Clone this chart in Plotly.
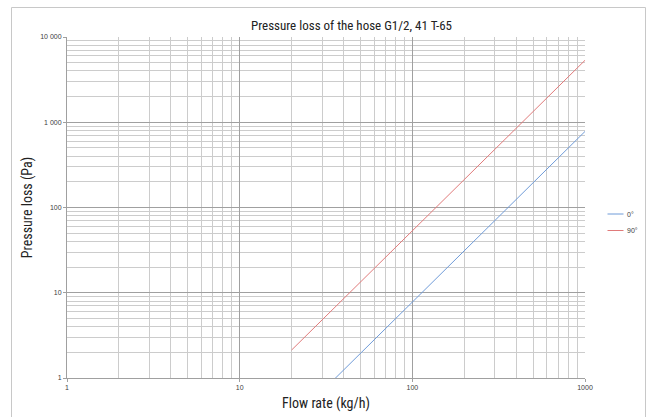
import plotly.graph_objects as go

flow = [20, 30, 40, 50, 60, 70, 80, 90, 100, 200, 300, 400, 500, 600, 700, 800, 900, 1000]
loss_0 = [0.31, 0.70, 1.25, 1.95, 2.81, 3.82, 4.99, 6.32, 7.8, 31.2, 70.2, 125, 195, 281, 382, 499, 632, 780]
loss_90 = [2.13, 4.8, 8.5, 13.3, 19.2, 26.1, 34.1, 43.2, 53.3, 213, 480, 853, 1333, 1919, 2612, 3411, 4317, 5330]
series_names = ["0°", "90°"]
series_colors = ["#6f9bd8", "#e07a7a"]

x_ticks = [1, 10, 100, 1000]
x_labels = ["1", "10", "100", "1000"]
y_ticks = [1, 10, 100, 1000, 10000]
y_labels = ["1", "10", "100", "1 000", "10 000"]

minor_x = [m * 10 ** d for d in range(0, 3) for m in range(2, 10)]
minor_y = [m * 10 ** d for d in range(0, 4) for m in range(2, 10)]

NARROW = "Liberation Sans Narrow, Roboto Condensed, Arial Narrow, sans-serif"

fig = go.Figure()
for name, ys, col in zip(series_names, [loss_0, loss_90], series_colors):
    fig.add_trace(go.Scatter(x=flow, y=ys, mode="lines", name=name,
                             line=dict(color=col, width=1), showlegend=False))

axis_common = dict(
    type="log", showgrid=True, gridcolor="#a0a0a0", gridwidth=1,
    zeroline=False, showline=True, linecolor="#a0a0a0", linewidth=1,
    ticks="outside", ticklen=3, tickcolor="#a0a0a0",
    tickfont=dict(family="Arial, sans-serif", size=7, color="#404040"),
    tickmode="array", automargin=False,
)

fig.update_xaxes(**axis_common, range=[0, 3], tickvals=x_ticks, ticktext=x_labels,
                 minor=dict(tickmode="array", tickvals=minor_x, showgrid=True,
                            gridcolor="#cccccc", gridwidth=1, ticks=""),
                 title=dict(text="Flow rate (kg/h)", font=dict(family=NARROW, size=14, color="#222222"), standoff=7))
fig.update_yaxes(**axis_common, range=[0, 4], tickvals=y_ticks, ticktext=y_labels,
                 minor=dict(tickmode="array", tickvals=minor_y, showgrid=True,
                            gridcolor="#cccccc", gridwidth=1, ticks=""),
                 title=dict(text="Pressure loss (Pa)", font=dict(family=NARROW, size=14, color="#222222"), standoff=4))

W, H = 654, 417
ml, mr, mt, mb = 67, 69, 37, 39
pw, ph = W - ml - mr, H - mt - mb

def px_to_paper_x(px):
    return (px - ml) / pw

def px_to_paper_y(py):
    return (H - mb - py) / ph

# outer chart frame (left, top, right edges)
frame = [(11.5, 7.5, 11.5, 417), (11.5, 7.5, 645.5, 7.5), (645.5, 7.5, 645.5, 417)]
for fx0, fy0, fx1, fy1 in frame:
    fig.add_shape(type="line", xref="paper", yref="paper",
                  x0=px_to_paper_x(fx0), x1=px_to_paper_x(fx1),
                  y0=px_to_paper_y(fy0), y1=px_to_paper_y(fy1),
                  line=dict(color="#c8c8c8", width=1), layer="above")

# manual legend
legend_y = [214, 230.5]
for name, col, ly in zip(series_names, series_colors, legend_y):
    fig.add_shape(type="line", xref="paper", yref="paper",
                  x0=px_to_paper_x(607.5), x1=px_to_paper_x(623.5),
                  y0=px_to_paper_y(ly), y1=px_to_paper_y(ly),
                  line=dict(color=col, width=1))
    fig.add_annotation(xref="paper", yref="paper", x=px_to_paper_x(625), y=px_to_paper_y(ly),
                       text=name, showarrow=False, xanchor="left", yanchor="middle",
                       font=dict(family="Arial, sans-serif", size=7, color="#404040"))

fig.update_layout(
    width=W, height=H,
    margin=dict(l=ml, r=mr, t=mt, b=mb, autoexpand=False),
    paper_bgcolor="white", plot_bgcolor="white",
    title=dict(text="Pressure loss of the hose G1/2, 41 T-65",
               font=dict(family=NARROW, size=13, color="#222222"),
               x=351.5 / W, xanchor="center", y=1 - 25 / H, yanchor="middle"),
    showlegend=False,
)

fig.write_html("out.html", config={"displayModeBar": False},
               post_script="document.body.style.margin='0';document.body.style.overflow='hidden';")
